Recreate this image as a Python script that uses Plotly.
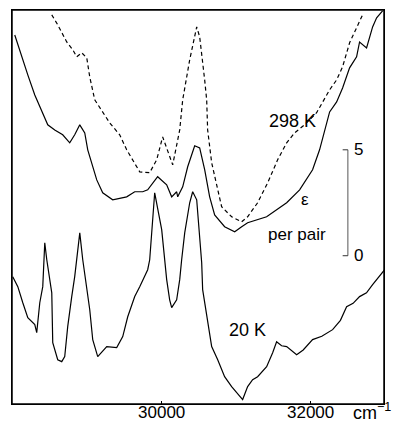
import plotly.graph_objects as go

# 298 K, solid trace (wavenumber cm-1, epsilon per pair incl. offset)
wn_298_solid = [28027, 28121, 28202, 28296, 28363, 28470, 28564, 28671, 28765, 28832,
                28900, 28967, 29007, 29128, 29208, 29342, 29530, 29638, 29745, 29812,
                29946, 30067, 30134, 30201, 30215, 30282, 30349, 30443, 30510, 30577,
                30644, 30711, 30845, 30980, 31074, 31154, 31409, 31678, 31852, 32026,
                32120, 32188, 32255, 32349, 32429, 32523, 32617, 32657, 32751, 32832,
                32886, 32966]
eps_298_solid = [10.42, 9.39, 8.54, 7.59, 7.03, 6.18, 5.94, 5.71, 5.33, 5.71,
                 6.18, 5.80, 5.00, 3.58, 2.97, 2.64, 2.78, 3.02, 3.02, 3.11,
                 3.73, 3.35, 2.78, 3.02, 2.78, 3.25, 4.20, 5.19, 5.09, 4.06,
                 2.78, 1.93, 1.37, 1.13, 1.37, 1.56, 1.84, 2.50, 3.11, 4.06,
                 5.00, 5.94, 6.79, 7.26, 7.92, 8.87, 9.39, 10.09, 9.81, 10.80,
                 11.23, 11.56]

# 298 K, dashed trace
wn_298_dash = [28524, 28604, 28725, 28806, 28859, 28926, 28994, 29034, 29101, 29168,
               29302, 29436, 29530, 29705, 29839, 29933, 30013, 30148, 30242, 30282,
               30376, 30470, 30510, 30577, 30604, 30617, 30671, 30805, 30939, 31074,
               31154, 31288, 31423, 31557, 31678, 31785, 31919, 32080, 32255, 32349,
               32429, 32523, 32617, 32697]
eps_298_dash = [11.37, 10.90, 10.09, 9.72, 9.39, 9.58, 9.34, 8.44, 7.36, 6.98,
                6.27, 5.71, 5.00, 3.96, 3.92, 4.53, 5.61, 4.29, 5.94, 7.36,
                9.25, 10.80, 10.33, 8.30, 7.36, 5.94, 4.39, 2.31, 1.84, 1.60,
                1.84, 2.50, 3.44, 4.53, 5.33, 5.80, 6.18, 6.75, 7.83, 8.30,
                8.92, 10.05, 10.80, 11.37]

# 20 K trace
wn_20 = [28000, 28068, 28135, 28202, 28296, 28322, 28363, 28403, 28430, 28457,
         28524, 28537, 28604, 28658, 28698, 28738, 28792, 28832, 28900, 28940,
         29034, 29074, 29141, 29262, 29396, 29477, 29544, 29638, 29705, 29772,
         29812, 29839, 29906, 30000, 30040, 30067, 30107, 30134, 30201, 30242,
         30268, 30309, 30376, 30416, 30470, 30510, 30537, 30550, 30604, 30671,
         30752, 30845, 30939, 31087, 31154, 31221, 31288, 31409, 31490, 31543,
         31610, 31678, 31812, 31900, 32026, 32150, 32295, 32400, 32483, 32570,
         32657, 32750, 32832, 32993]
eps_20 = [-0.99, -1.46, -2.22, -2.92, -3.25, -3.63, -2.22, -1.46, 0.61, -0.19,
          -1.75, -4.10, -4.91, -5.00, -4.76, -3.35, -1.93, -0.99, 1.08, -0.19,
          -2.55, -3.96, -4.76, -4.29, -4.34, -3.82, -2.88, -1.93, -1.46, -0.99,
          -0.66, -0.19, 2.97, 1.23, -0.33, -1.13, -2.08, -2.45, -2.08, -1.13,
          -0.19, 1.08, 2.50, 3.02, 2.64, 0.90, -0.33, -1.60, -2.88, -4.29,
          -4.91, -5.71, -6.18, -6.79, -6.18, -5.85, -5.71, -5.24, -4.58, -4.06,
          -4.25, -4.29, -4.67, -4.45, -3.96, -3.80, -3.49, -3.05, -2.41, -2.25,
          -1.93, -1.75, -1.37, -0.66]

x_tick_vals = [30000, 32000]
x_tick_text = ["30000", "32000"]
scale_vals = [0, 5]
scale_text = ["0", "5"]
scale_x = 32500

FONT = "Liberation Sans, Arial, sans-serif"

fig = go.Figure()
fig.add_trace(go.Scatter(x=wn_298_solid, y=eps_298_solid, mode="lines",
                         line=dict(color="black", width=1.2)))
fig.add_trace(go.Scatter(x=wn_298_dash, y=eps_298_dash, mode="lines",
                         line=dict(color="black", width=1.2, dash="4px,3px")))
fig.add_trace(go.Scatter(x=wn_20, y=eps_20, mode="lines",
                         line=dict(color="black", width=1.2)))

# frame
fig.add_shape(type="rect", xref="paper", yref="paper", x0=0, x1=1, y0=0, y1=1,
              line=dict(color="black", width=1.5), layer="above")

# scale bar for epsilon
fig.add_shape(type="line", xref="x", yref="y", x0=scale_x, x1=scale_x,
              y0=scale_vals[0], y1=scale_vals[1], line=dict(color="#555", width=1))
for v, t in zip(scale_vals, scale_text):
    fig.add_shape(type="line", xref="x", yref="y", x0=scale_x - 70, x1=scale_x,
                  y0=v, y1=v, line=dict(color="#333", width=1))
    fig.add_annotation(x=scale_x + 60, y=v, xref="x", yref="y", text=t,
                       showarrow=False, xanchor="left", yanchor="middle",
                       font=dict(size=17, color="black", family=FONT))

fig.add_annotation(x=31760, y=6.35, xref="x", yref="y", text="298 K", showarrow=False,
                   font=dict(size=18, color="black", family=FONT))
fig.add_annotation(x=31930, y=2.65, xref="x", yref="y", text="ε", showarrow=False,
                   font=dict(size=17, color="black", family=FONT))
fig.add_annotation(x=31820, y=1.0, xref="x", yref="y", text="per pair", showarrow=False,
                   font=dict(size=17, color="black", family=FONT))
fig.add_annotation(x=31155, y=-3.5, xref="x", yref="y", text="20 K", showarrow=False,
                   font=dict(size=18, color="black", family=FONT))
fig.add_annotation(x=0.912, y=-0.02, xref="paper", yref="paper", text="cm<sup>−1</sup>",
                   showarrow=False, xanchor="left", yanchor="middle",
                   font=dict(size=18, color="black", family=FONT))

fig.update_layout(
    width=405, height=422,
    margin=dict(l=12, r=21, t=10, b=18, autoexpand=False),
    paper_bgcolor="white", plot_bgcolor="white",
    showlegend=False,
    font=dict(family=FONT, color="black"),
)
fig.update_xaxes(range=[27990, 32985], tickvals=x_tick_vals, ticktext=x_tick_text,
                 ticks="inside", ticklen=3, tickcolor="black", automargin=False,
                 ticklabelstandoff=-8,
                 showgrid=False, zeroline=False, showline=True, linecolor="black",
                 linewidth=1.2, mirror=True, tickfont=dict(size=17, family=FONT))
fig.update_yaxes(range=[-7.0, 11.6], showticklabels=False, ticks="", automargin=False,
                 showgrid=False, zeroline=False, showline=True, linecolor="black",
                 linewidth=1.2, mirror=True)

fig.write_html("out.html", config={"displayModeBar": False},
               post_script="document.body.style.margin='0';document.body.style.overflow='hidden';")
